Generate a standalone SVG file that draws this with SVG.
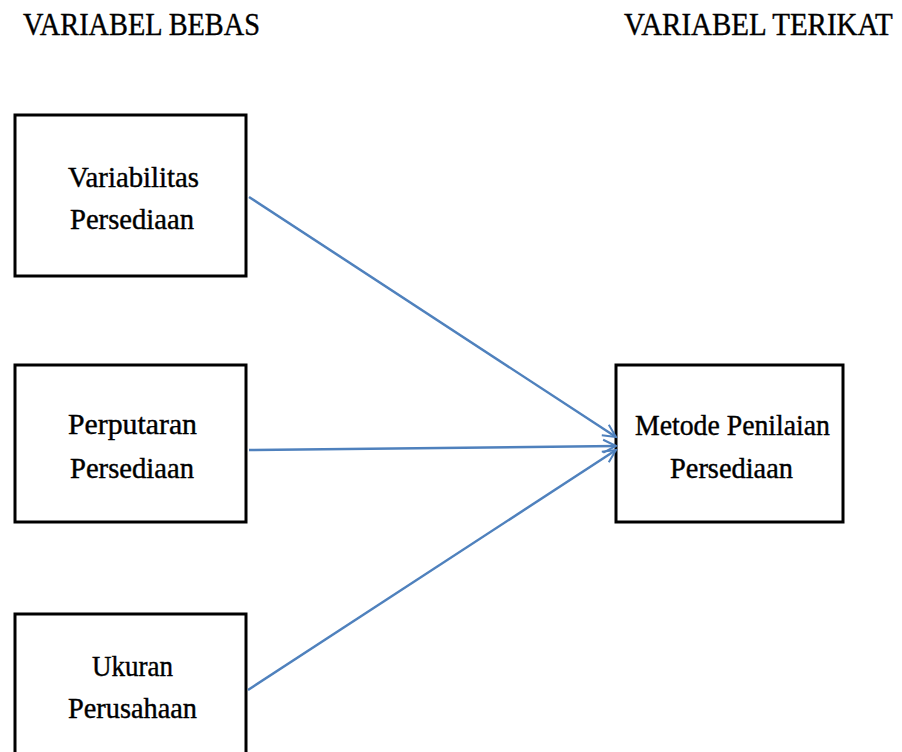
<svg xmlns="http://www.w3.org/2000/svg" width="902" height="752" viewBox="0 0 902 752">
<defs>
<style>
.box{fill:#fff;stroke:#000;stroke-width:3}
text{fill:#000;stroke:#000;stroke-width:0.4}
.t{font-size:29px}
.h{font-size:31px}
.c{fill:none;stroke:#4F81BD;stroke-width:2.5}
</style>
<marker id="ah" viewBox="0 0 20 20" refX="18" refY="10" markerWidth="16" markerHeight="16" markerUnits="userSpaceOnUse" orient="auto">
<path d="M2,2 L18,10 L2,18" fill="none" stroke="#4F81BD" stroke-width="2.5"/>
</marker>
</defs>
<rect width="902" height="752" fill="#fff"/>
<g font-family="Liberation Serif, Times New Roman, serif">
<text class="h" transform="translate(23,35) scale(0.75,1)" x="0" y="0" textLength="316" lengthAdjust="spacingAndGlyphs">VARIABEL BEBAS</text>
<text class="h" transform="translate(624,35) scale(0.8,1)" x="0" y="0" textLength="336" lengthAdjust="spacingAndGlyphs">VARIABEL TERIKAT</text>
<g id="n1">
<rect class="box" x="15" y="115" width="231" height="161"/>
<text class="t" x="68" y="187" textLength="131" lengthAdjust="spacingAndGlyphs">Variabilitas</text>
<text class="t" x="70" y="229" textLength="124" lengthAdjust="spacingAndGlyphs">Persediaan</text>
</g>
<g id="n2">
<rect class="box" x="15" y="365" width="231" height="157"/>
<text class="t" x="68" y="434" textLength="129" lengthAdjust="spacingAndGlyphs">Perputaran</text>
<text class="t" x="70" y="478" textLength="124" lengthAdjust="spacingAndGlyphs">Persediaan</text>
</g>
<g id="n3">
<rect class="box" x="15" y="614" width="231" height="150"/>
<text class="t" x="92" y="676" textLength="81" lengthAdjust="spacingAndGlyphs">Ukuran</text>
<text class="t" x="68" y="718" textLength="129" lengthAdjust="spacingAndGlyphs">Perusahaan</text>
</g>
<g id="n4">
<rect class="box" x="616" y="365" width="227" height="157"/>
<text class="t" x="635" y="435" textLength="195" lengthAdjust="spacingAndGlyphs">Metode Penilaian</text>
<text class="t" x="670" y="478" textLength="123" lengthAdjust="spacingAndGlyphs">Persediaan</text>
</g>
</g>
<g id="connectors">
<line class="c" x1="249" y1="197" x2="616" y2="437" marker-end="url(#ah)"/>
<line class="c" x1="249" y1="450" x2="616" y2="446" marker-end="url(#ah)"/>
<line class="c" x1="248" y1="690" x2="616" y2="450" marker-end="url(#ah)"/>
</g>
</svg>
